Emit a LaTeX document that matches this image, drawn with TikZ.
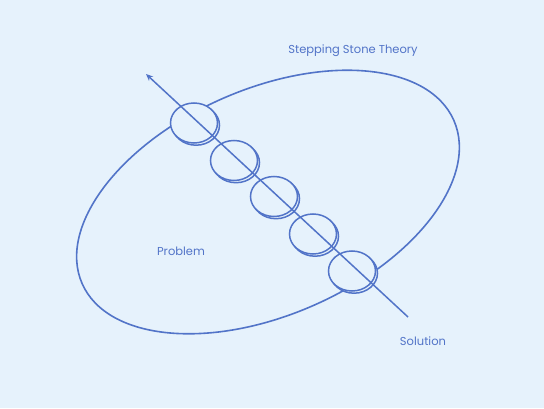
\documentclass[tikz,border=0pt]{standalone}
\usepackage{fontspec}
\setmainfont{Poppins}
\usetikzlibrary{arrows.meta}
\definecolor{paper}{RGB}{230,242,252}
\definecolor{ink}{RGB}{82,116,200}
\tikzset{
    stone/.style={draw=ink, fill=paper, line width=1.5pt},
    lbl/.style={text=ink, font=\fontsize{11.5}{13}\selectfont}
}
\begin{document}
\begin{tikzpicture}[x=1pt, y=1pt]
        \fill[paper] (0, 0) rectangle (544, 408);
        \useasboundingbox (0, 0) rectangle (544, 408);
        
        \coordinate (O) at (268, 206);
        \draw[ink, line width=1.6pt, rotate around={23.7:(O)}] (O) ellipse (203 and 113);
        
        \coordinate (S1) at (194, 285);
        \coordinate (S2) at (234, 247.5);
        \coordinate (S3) at (274, 211.5);
        \coordinate (S4) at (313, 174);
        \coordinate (S5) at (352, 137);
        
        \draw[stone] ([shift={(2,-2.2)}]S1) ellipse (23.5 and 20);
        \draw[stone] (S1) ellipse (23.5 and 20);
        \draw[stone] ([shift={(2,-2.2)}]S2) ellipse (23.5 and 20);
        \draw[stone] (S2) ellipse (23.5 and 20);
        \draw[stone] ([shift={(2,-2.2)}]S3) ellipse (23.5 and 20);
        \draw[stone] (S3) ellipse (23.5 and 20);
        \draw[stone] ([shift={(2,-2.2)}]S4) ellipse (23.5 and 20);
        \draw[stone] (S4) ellipse (23.5 and 20);
        \draw[stone] ([shift={(2,-2.2)}]S5) ellipse (23.5 and 20);
        \draw[stone] (S5) ellipse (23.5 and 20);
        
        \coordinate (End) at (408, 91);
        \coordinate (Tip) at (146, 334);
        \draw[ink, line width=1.5pt, -{Stealth[length=7pt, width=6pt]}] (End) -- (Tip);
        
        \node[lbl] (theory) at (353, 357) {Stepping Stone Theory};
        \node[lbl] (problem) at (181, 157) {Problem};
        \node[lbl] (solution) at (423, 67) {Solution};
    \end{tikzpicture}
\end{document}
